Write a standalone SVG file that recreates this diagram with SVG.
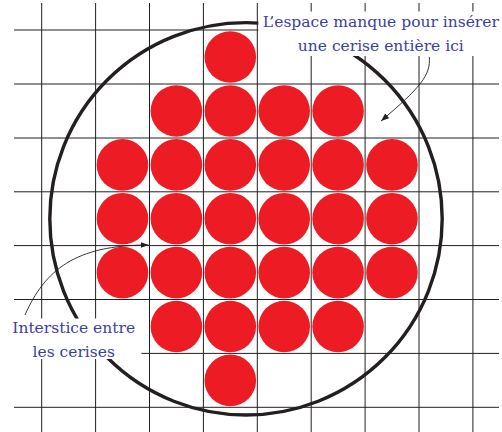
<svg xmlns="http://www.w3.org/2000/svg" width="502" height="432" viewBox="0 0 502 432">
  <style>
    .grid line { stroke: #231f20; stroke-width: 1; }
    .cherry { fill: #ed1c24; }
    .label { font-family: "DejaVu Serif", "Liberation Serif", serif; font-size: 15.5px; fill: #3b41a0; text-anchor: middle; }
    .conn { fill: none; stroke: #231f20; stroke-width: 0.9; }
    .bg { fill: #ffffff; }
  </style>
  <defs>
    <marker id="arrow" markerUnits="userSpaceOnUse" markerWidth="9" markerHeight="7" refX="8" refY="3" orient="auto">
      <path d="M0,0 L8,3 L0,6 z" fill="#231f20"/>
    </marker>
  </defs>
  <rect width="502" height="432" fill="#ffffff"/>
  <g id="grid" class="grid">
    <line x1="41.7" y1="3" x2="41.7" y2="432"/>
    <line x1="95.6" y1="3" x2="95.6" y2="432"/>
    <line x1="149.5" y1="3" x2="149.5" y2="432"/>
    <line x1="203.4" y1="3" x2="203.4" y2="432"/>
    <line x1="257.3" y1="3" x2="257.3" y2="432"/>
    <line x1="311.2" y1="3" x2="311.2" y2="432"/>
    <line x1="365.1" y1="3" x2="365.1" y2="432"/>
    <line x1="419" y1="3" x2="419" y2="432"/>
    <line x1="472.9" y1="3" x2="472.9" y2="432"/>
    <line x1="14" y1="30" x2="499" y2="30"/>
    <line x1="14" y1="84" x2="499" y2="84"/>
    <line x1="14" y1="138" x2="499" y2="138"/>
    <line x1="14" y1="191.8" x2="499" y2="191.8"/>
    <line x1="14" y1="245.6" x2="499" y2="245.6"/>
    <line x1="14" y1="299.5" x2="499" y2="299.5"/>
    <line x1="14" y1="353.4" x2="499" y2="353.4"/>
    <line x1="14" y1="407.3" x2="499" y2="407.3"/>
  </g>
  <g id="cherries">
    <circle class="cherry" cx="230.3" cy="57" r="25.8"/>
    <circle class="cherry" cx="176.4" cy="111" r="25.8"/>
    <circle class="cherry" cx="230.3" cy="111" r="25.8"/>
    <circle class="cherry" cx="284.2" cy="111" r="25.8"/>
    <circle class="cherry" cx="338.1" cy="111" r="25.8"/>
    <circle class="cherry" cx="122.5" cy="164.9" r="25.8"/>
    <circle class="cherry" cx="176.4" cy="164.9" r="25.8"/>
    <circle class="cherry" cx="230.3" cy="164.9" r="25.8"/>
    <circle class="cherry" cx="284.2" cy="164.9" r="25.8"/>
    <circle class="cherry" cx="338.1" cy="164.9" r="25.8"/>
    <circle class="cherry" cx="392" cy="164.9" r="25.8"/>
    <circle class="cherry" cx="122.5" cy="218.7" r="25.8"/>
    <circle class="cherry" cx="176.4" cy="218.7" r="25.8"/>
    <circle class="cherry" cx="230.3" cy="218.7" r="25.8"/>
    <circle class="cherry" cx="284.2" cy="218.7" r="25.8"/>
    <circle class="cherry" cx="338.1" cy="218.7" r="25.8"/>
    <circle class="cherry" cx="392" cy="218.7" r="25.8"/>
    <circle class="cherry" cx="122.5" cy="272.6" r="25.8"/>
    <circle class="cherry" cx="176.4" cy="272.6" r="25.8"/>
    <circle class="cherry" cx="230.3" cy="272.6" r="25.8"/>
    <circle class="cherry" cx="284.2" cy="272.6" r="25.8"/>
    <circle class="cherry" cx="338.1" cy="272.6" r="25.8"/>
    <circle class="cherry" cx="392" cy="272.6" r="25.8"/>
    <circle class="cherry" cx="176.4" cy="326.5" r="25.8"/>
    <circle class="cherry" cx="230.3" cy="326.5" r="25.8"/>
    <circle class="cherry" cx="284.2" cy="326.5" r="25.8"/>
    <circle class="cherry" cx="338.1" cy="326.5" r="25.8"/>
    <circle class="cherry" cx="230.3" cy="380.4" r="25.8"/>
  </g>
  <g id="container">
    <circle cx="246" cy="218.8" r="196.2" fill="none" stroke="#231f20" stroke-width="3.4"/>
  </g>
  <g id="connectors">
    <path class="conn" d="M429.3,57 C431,75 420,88 381,121" marker-end="url(#arrow)"/>
    <path class="conn" d="M25,315 C45,270 75,245 148.5,245" marker-end="url(#arrow)"/>
  </g>
  <g id="label-espace">
    <rect class="bg" x="258.3" y="11.5" width="244" height="44.5"/>
    <text class="label" x="380.8" y="26.7">L’espace manque pour insérer</text>
    <text class="label" x="380.8" y="50.5">une cerise entière ici</text>
  </g>
  <g id="label-interstice">
    <rect class="bg" x="10" y="318.5" width="131.5" height="40.5"/>
    <text class="label" x="73.7" y="333">Interstice entre</text>
    <text class="label" x="73.7" y="357.3">les cerises</text>
  </g>
</svg>
